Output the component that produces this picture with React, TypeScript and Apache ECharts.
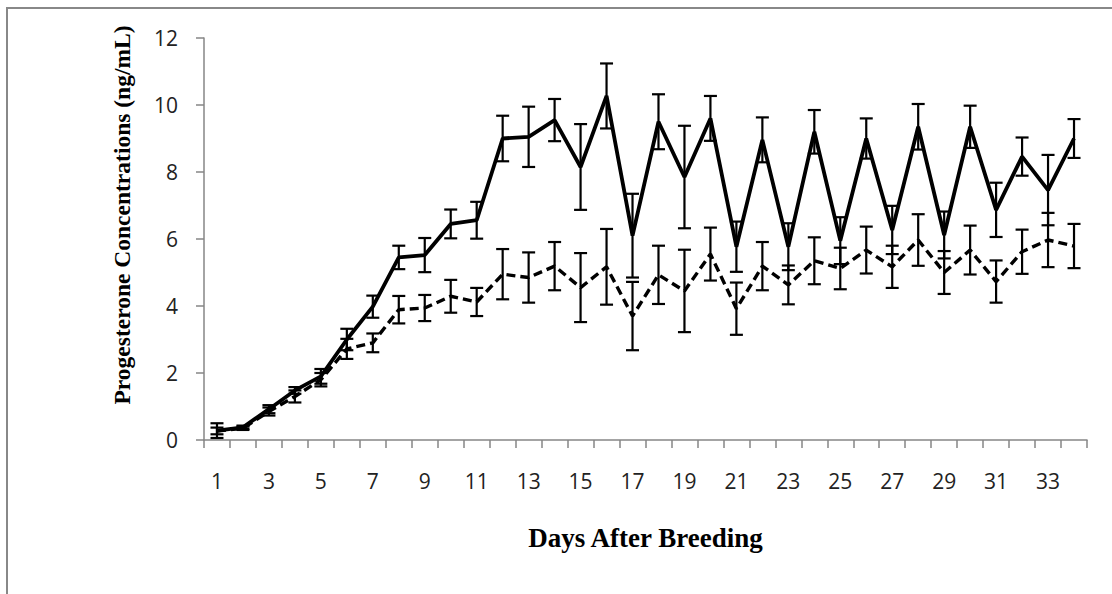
import React, { useEffect, useRef } from "react";
import * as echarts from "echarts";

const days = Array.from({ length: 34 }, (_, i) => String(i + 1));

const solidMean = [0.28, 0.38, 0.92, 1.48, 1.9, 3.0, 3.98, 5.45, 5.52, 6.45, 6.56, 9.0, 9.05, 9.55, 8.15, 10.27, 6.1, 9.5, 7.85, 9.6, 5.77, 8.96, 5.77, 9.2, 5.95, 9.0, 6.27, 9.35, 6.12, 9.35, 6.87, 8.46, 7.46, 9.0];
const solidErr = [0.22, 0.05, 0.12, 0.1, 0.22, 0.32, 0.33, 0.35, 0.51, 0.43, 0.55, 0.68, 0.9, 0.63, 1.28, 0.97, 1.25, 0.82, 1.53, 0.67, 0.75, 0.67, 0.7, 0.65, 0.7, 0.6, 0.72, 0.68, 0.7, 0.63, 0.81, 0.57, 1.05, 0.58];

const dashedMean = [0.27, 0.35, 0.85, 1.3, 1.8, 2.72, 2.9, 3.89, 3.94, 4.29, 4.12, 4.95, 4.85, 5.19, 4.55, 5.17, 3.7, 4.93, 4.45, 5.55, 3.92, 5.19, 4.63, 5.35, 5.12, 5.67, 5.17, 5.97, 5.0, 5.67, 4.73, 5.62, 5.97, 5.79];
const dashedErr = [0.1, 0.05, 0.12, 0.18, 0.2, 0.3, 0.28, 0.41, 0.39, 0.49, 0.42, 0.75, 0.75, 0.72, 1.03, 1.13, 1.02, 0.87, 1.23, 0.79, 0.78, 0.72, 0.58, 0.7, 0.62, 0.7, 0.63, 0.77, 0.64, 0.73, 0.63, 0.66, 0.81, 0.66];

const yTicks = { min: 0, max: 12, interval: 2 };
const xTitle = "Days After Breeding";
const yTitle = "Progesterone Concentrations (ng/mL)";

function errData(mean: number[], err: number[]) {
  return mean.map((m, i) => [i, m - err[i], m + err[i]]);
}

function renderErr(params: any, api: any) {
  const x = api.value(0);
  const lo = api.coord([x, api.value(1)]);
  const hi = api.coord([x, api.value(2)]);
  const hw = 6.5;
  const style = { stroke: "#000", lineWidth: 2.2, fill: "none" };
  return {
    type: "group",
    children: [
      { type: "line", shape: { x1: hi[0], y1: hi[1], x2: lo[0], y2: lo[1] }, style },
      { type: "line", shape: { x1: hi[0] - hw, y1: hi[1], x2: hi[0] + hw, y2: hi[1] }, style },
      { type: "line", shape: { x1: lo[0] - hw, y1: lo[1], x2: lo[0] + hw, y2: lo[1] }, style },
    ],
  };
}

export default function App() {
  const ref = useRef<HTMLDivElement>(null);
  useEffect(() => {
    if (!ref.current) return;
    const chart = echarts.init(ref.current, null, { renderer: "svg" });
    const axisGray = "#868686";
    chart.setOption({
      animation: false,
      backgroundColor: "#fff",
      grid: { left: 204, right: 25, top: 38, bottom: 154, containLabel: false },
      graphic: [
        {
          type: "rect",
          shape: { x: 7, y: 8, width: 1300, height: 800 },
          style: { fill: "none", stroke: "#888", lineWidth: 2 },
          silent: true,
        },
        {
          type: "text",
          x: 122,
          y: 215,
          rotation: Math.PI / 2,
          style: {
            text: yTitle,
            fontFamily: "Liberation Serif",
            fontWeight: "bold",
            fontSize: 23.5,
            fill: "#000",
            align: "center",
            verticalAlign: "middle",
          },
          silent: true,
        },
      ],
      xAxis: {
        type: "category",
        data: days,
        boundaryGap: true,
        axisLine: { lineStyle: { color: axisGray, width: 1.5 } },
        axisTick: { show: true, interval: 0, length: 8, lineStyle: { color: axisGray, width: 1.5 } },
        axisLabel: { interval: 1, margin: 30, fontSize: 21, fontFamily: "Open Sans", color: "#222" },
        name: xTitle,
        nameLocation: "middle",
        nameGap: 84,
        nameTextStyle: { fontFamily: "Liberation Serif", fontWeight: "bold", fontSize: 27, color: "#000" },
      },
      yAxis: {
        type: "value",
        min: yTicks.min,
        max: yTicks.max,
        interval: yTicks.interval,
        splitLine: { show: false },
        axisLine: { show: true, lineStyle: { color: axisGray, width: 1.5 } },
        axisTick: { show: true, length: 8, lineStyle: { color: axisGray, width: 1.5 } },
        axisLabel: { margin: 26, fontSize: 21, fontFamily: "Open Sans", color: "#222" },
      },
      series: [
        {
          type: "line",
          data: dashedMean,
          symbol: "none",
          lineStyle: { color: "#000", width: 3.4, type: [9, 5] },
          z: 2,
        },
        {
          type: "line",
          data: solidMean,
          symbol: "none",
          lineStyle: { color: "#000", width: 3.8, type: "solid" },
          z: 3,
        },
        {
          type: "custom",
          data: errData(dashedMean, dashedErr),
          encode: { x: 0, y: [1, 2] },
          renderItem: renderErr,
          z: 4,
        },
        {
          type: "custom",
          data: errData(solidMean, solidErr),
          encode: { x: 0, y: [1, 2] },
          renderItem: renderErr,
          z: 4,
        },
      ],
    });
    return () => chart.dispose();
  }, []);
  return (
    <div
      ref={ref}
      style={{ position: "fixed", left: 0, top: 0, width: 1112, height: 594 }}
    />
  );
}
